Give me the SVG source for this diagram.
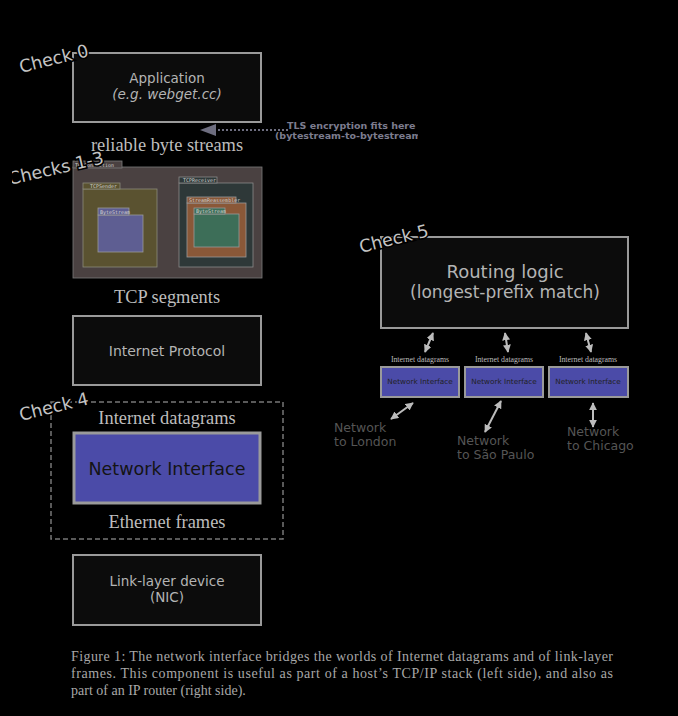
<svg xmlns="http://www.w3.org/2000/svg" width="678" height="716" viewBox="0 0 678 716">
<style>
.box{fill:#0c0c0c;stroke:#9a9a9a;stroke-width:2}
.ni{fill:#4b4ba8;stroke:#9a9a9a}
.sans{font-family:"DejaVu Sans",Verdana,sans-serif}
.lbl{fill:#b4b4b4;text-anchor:middle}
.ser{font-family:"Liberation Serif","Times New Roman",serif;fill:#bdbdbd;text-anchor:middle}
.chk{font-family:"DejaVu Sans",Verdana,sans-serif;font-size:17.5px;fill:#c4c4c4;stroke:#000;stroke-width:3;paint-order:stroke}
.tiny{font-family:"DejaVu Sans Mono",monospace;font-size:5px;fill:#cfcfcf}
.net{font-family:"DejaVu Sans",Verdana,sans-serif;font-size:12.5px;fill:#555}
.arr{stroke:#bcbcbc;stroke-width:2;fill:none;marker-start:url(#ah);marker-end:url(#ah)}
</style>
<defs>
<marker id="ah" viewBox="0 0 10 10" refX="9" refY="5" markerWidth="4" markerHeight="4" orient="auto-start-reverse" markerUnits="strokeWidth"><path d="M0,0 L10,5 L0,10 Z" fill="#bcbcbc"/></marker>
<clipPath id="tlsclip"><rect x="0" y="110" width="418" height="40"/></clipPath>
<clipPath id="leftclip"><rect x="12" y="0" width="666" height="716"/></clipPath>
</defs>
<rect width="678" height="716" fill="#000"/>

<g id="application">
<rect class="box" x="73" y="53" width="188" height="69"/>
<text class="sans lbl" x="167" y="83" font-size="13.5">Application</text>
<text class="sans lbl" x="167" y="98.5" font-size="13.5" font-style="italic">(e.g. webget.cc)</text>
</g>

<g id="tls-note" clip-path="url(#tlsclip)">
<line x1="214" y1="130" x2="290" y2="130" stroke="#6e6e80" stroke-width="2.2" stroke-dasharray="2,2"/>
<path d="M200,130 L216,124 L216,136 Z" fill="#6e6e80"/>
<text class="sans" x="287" y="129" font-size="9.5" font-weight="bold" fill="#7c7c8e">TLS encryption fits here</text>
<text class="sans" x="275" y="139" font-size="9.5" font-weight="bold" fill="#7c7c8e">(bytestream-to-bytestream)</text>
</g>

<text class="ser" x="167" y="151" font-size="18.4">reliable byte streams</text>

<g id="tcp">
<rect x="73" y="167" width="189" height="111" fill="#4a4141" stroke="#7a7a7a" stroke-width="0.8"/>
<rect x="73" y="161" width="49" height="7" fill="#4a4141" stroke="#7a7a7a" stroke-width="0.8"/>
<text class="tiny" x="75" y="166.5">TCPConnection</text>
<rect x="83" y="189" width="74" height="78" fill="#5a5230" stroke="#8a8a7a" stroke-width="0.8"/>
<rect x="83" y="183" width="37" height="6" fill="#5a5230" stroke="#8a8a7a" stroke-width="0.8"/>
<text class="tiny" x="90" y="188">TCPSender</text>
<rect x="98" y="215" width="45" height="37" fill="#5e5e92" stroke="#9a9a9a" stroke-width="0.8"/>
<rect x="98" y="208" width="31" height="7" fill="#5e5e92" stroke="#9a9a9a" stroke-width="0.8"/>
<text class="tiny" x="100" y="213.5">ByteStream</text>
<rect x="179" y="183" width="74" height="84" fill="#2e3838" stroke="#8a8a8a" stroke-width="0.8"/>
<rect x="179" y="177" width="38" height="6" fill="#2e3838" stroke="#8a8a8a" stroke-width="0.8"/>
<text class="tiny" x="183" y="182">TCPReceiver</text>
<rect x="187" y="203" width="59" height="54" fill="#8a5838" stroke="#9a9a9a" stroke-width="0.8"/>
<rect x="187" y="197" width="49" height="6" fill="#8a5838" stroke="#9a9a9a" stroke-width="0.8"/>
<text class="tiny" x="189" y="202">StreamReassembler</text>
<rect x="194" y="214" width="45" height="33" fill="#3d6e58" stroke="#9a9a9a" stroke-width="0.8"/>
<rect x="194" y="208" width="31" height="6" fill="#3d6e58" stroke="#9a9a9a" stroke-width="0.8"/>
<text class="tiny" x="196" y="213">ByteStream</text>
</g>

<text class="ser" x="167" y="303" font-size="18.4">TCP segments</text>

<g id="ip">
<rect class="box" x="73" y="316" width="188" height="69"/>
<text class="sans lbl" x="167" y="356" font-size="14">Internet Protocol</text>
</g>

<g id="check4-group">
<rect x="51" y="402" width="232" height="137" fill="none" stroke="#777" stroke-width="1.5" stroke-dasharray="5,3"/>
<text class="ser" x="167" y="424" font-size="18.4">Internet datagrams</text>
<text class="ser" x="167" y="528" font-size="18.4">Ethernet frames</text>
</g>

<g id="network-interface">
<rect class="ni" x="74" y="433" width="186" height="70" stroke-width="3"/>
<text class="sans" x="167" y="475" font-size="17.5" fill="#141414" text-anchor="middle">Network Interface</text>
</g>

<g id="link-layer">
<rect class="box" x="73" y="555" width="188" height="70"/>
<text class="sans lbl" x="167" y="586" font-size="13.5">Link-layer device</text>
<text class="sans lbl" x="167" y="601.5" font-size="13.5">(NIC)</text>
</g>

<g id="router">
<rect class="box" x="381" y="237" width="247" height="91"/>
<text class="sans lbl" x="505" y="278" font-size="18">Routing logic</text>
<text class="sans lbl" x="505" y="298" font-size="17">(longest-prefix match)</text>
</g>

<g id="ni-london">
<text class="ser" x="420" y="362" font-size="7.8" fill="#c8c8c8">Internet datagrams</text>
<rect class="ni" x="381" y="367" width="78" height="30" stroke-width="2"/>
<text class="sans" x="420" y="384" font-size="7.3" fill="#222" text-anchor="middle">Network Interface</text>
</g>
<g id="ni-saopaulo">
<text class="ser" x="504" y="362" font-size="7.8" fill="#c8c8c8">Internet datagrams</text>
<rect class="ni" x="465" y="367" width="78" height="30" stroke-width="2"/>
<text class="sans" x="504" y="384" font-size="7.3" fill="#222" text-anchor="middle">Network Interface</text>
</g>
<g id="ni-chicago">
<text class="ser" x="588" y="362" font-size="7.8" fill="#c8c8c8">Internet datagrams</text>
<rect class="ni" x="549" y="367" width="79" height="30" stroke-width="2"/>
<text class="sans" x="588" y="384" font-size="7.3" fill="#222" text-anchor="middle">Network Interface</text>
</g>

<g id="net-labels">
<text class="net" x="334" y="432">Network</text>
<text class="net" x="334" y="446">to London</text>
<text class="net" x="457" y="445">Network</text>
<text class="net" x="457" y="459">to São Paulo</text>
<text class="net" x="567" y="436">Network</text>
<text class="net" x="567" y="450">to Chicago</text>
</g>

<g id="connectors">
<line class="arr" x1="433" y1="333" x2="425" y2="352"/>
<line class="arr" x1="505" y1="333" x2="508" y2="352"/>
<line class="arr" x1="586" y1="333" x2="591" y2="352"/>
<line class="arr" x1="413" y1="403" x2="391" y2="419"/>
<line class="arr" x1="501" y1="401" x2="485" y2="432"/>
<line class="arr" x1="593" y1="403" x2="593" y2="427"/>
</g>

<g id="check-labels">
<text class="chk" transform="translate(21,73) rotate(-14)">Check 0</text>
<g clip-path="url(#leftclip)"><text class="chk" transform="translate(10,185) rotate(-13)">Checks 1-3</text></g>
<text class="chk" transform="translate(21,421) rotate(-14)">Check 4</text>
<text class="chk" transform="translate(361,253) rotate(-14)">Check 5</text>
</g>

<g id="caption" font-family="'Liberation Serif','Times New Roman',serif" font-size="14" fill="#a8a8a8">
<text x="71" y="661" textLength="542" lengthAdjust="spacing">Figure 1: The network interface bridges the worlds of Internet datagrams and of link-layer</text>
<text x="71" y="678" textLength="542" lengthAdjust="spacing">frames. This component is useful as part of a host’s TCP/IP stack (left side), and also as</text>
<text x="71" y="695">part of an IP router (right side).</text>
</g>
</svg>
